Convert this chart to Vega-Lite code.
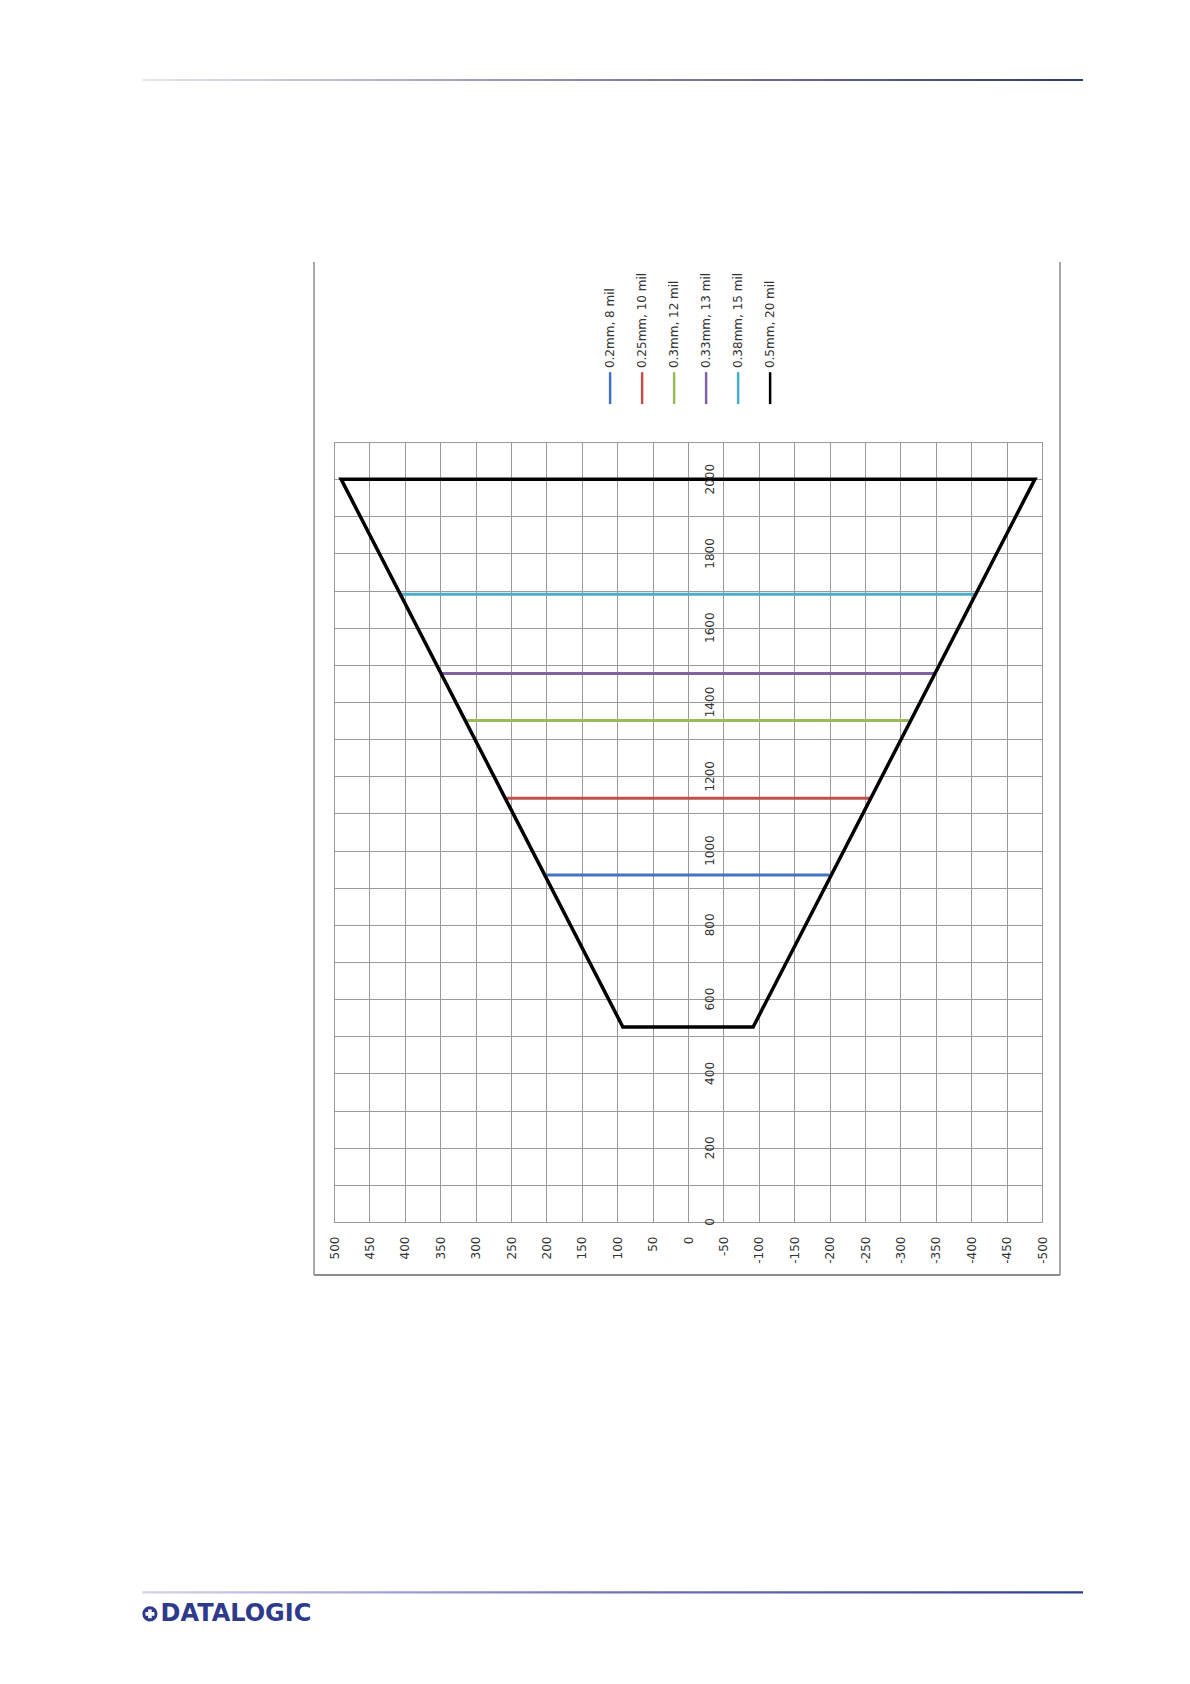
{
  "$schema": "https://vega.github.io/schema/vega-lite/v6.json",
  "width": 708,
  "height": 780,
  "autosize": {"type": "none"},
  "padding": {"left": 334, "top": 442, "right": 148, "bottom": 462},
  "background": "white",
  "config": {
    "view": {"stroke": "#8c8c8c", "strokeWidth": 1},
    "font": "DejaVu Sans"
  },
  "resolve": {"axis": {"x": "independent", "y": "independent"}},
  "datasets": {
    "lines": [
      {"series": "0.2mm, 8 mil", "lateral": 200, "distance": 934, "pt": 1},
      {"series": "0.2mm, 8 mil", "lateral": -200, "distance": 934, "pt": 2},
      {"series": "0.25mm, 10 mil", "lateral": 257, "distance": 1141, "pt": 1},
      {"series": "0.25mm, 10 mil", "lateral": -257, "distance": 1141, "pt": 2},
      {"series": "0.3mm, 12 mil", "lateral": 312, "distance": 1350, "pt": 1},
      {"series": "0.3mm, 12 mil", "lateral": -312, "distance": 1350, "pt": 2},
      {"series": "0.33mm, 13 mil", "lateral": 349, "distance": 1477, "pt": 1},
      {"series": "0.33mm, 13 mil", "lateral": -349, "distance": 1477, "pt": 2},
      {"series": "0.38mm, 15 mil", "lateral": 405, "distance": 1690, "pt": 1},
      {"series": "0.38mm, 15 mil", "lateral": -405, "distance": 1690, "pt": 2},
      {"series": "0.5mm, 20 mil", "lateral": 0, "distance": 2000, "pt": 1},
      {"series": "0.5mm, 20 mil", "lateral": 490, "distance": 2000, "pt": 2},
      {"series": "0.5mm, 20 mil", "lateral": 92, "distance": 525, "pt": 3},
      {"series": "0.5mm, 20 mil", "lateral": -92, "distance": 525, "pt": 4},
      {"series": "0.5mm, 20 mil", "lateral": -490, "distance": 2000, "pt": 5},
      {"series": "0.5mm, 20 mil", "lateral": 0, "distance": 2000, "pt": 6}
    ],
    "legend": [
      {"series": "0.2mm, 8 mil"},
      {"series": "0.25mm, 10 mil"},
      {"series": "0.3mm, 12 mil"},
      {"series": "0.33mm, 13 mil"},
      {"series": "0.38mm, 15 mil"},
      {"series": "0.5mm, 20 mil"}
    ],
    "dticks": [
      {"d": 0}, {"d": 200}, {"d": 400}, {"d": 600}, {"d": 800}, {"d": 1000},
      {"d": 1200}, {"d": 1400}, {"d": 1600}, {"d": 1800}, {"d": 2000}
    ]
  },
  "layer": [
    {
      "data": {"name": "lines"},
      "transform": [{"filter": "datum.series !== '0.5mm, 20 mil'"}],
      "mark": {"type": "line", "strokeWidth": 3, "strokeCap": "butt"},
      "encoding": {
        "x": {
          "field": "lateral", "type": "quantitative",
          "scale": {"domain": [500, -500], "nice": false, "zero": false},
          "axis": {
            "values": [500, 450, 400, 350, 300, 250, 200, 150, 100, 50, 0, -50, -100, -150, -200, -250, -300, -350, -400, -450, -500],
            "grid": true, "gridColor": "#9a9a9a", "gridWidth": 1,
            "labelAngle": 270, "labelPadding": 14, "labelFlush": false, "labelOverlap": false,
            "labelExpr": "'' + datum.value",
            "ticks": false, "domain": false, "title": null,
            "labelFont": "DejaVu Sans", "labelFontSize": 12, "labelColor": "#333333"
          }
        },
        "y": {
          "field": "distance", "type": "quantitative",
          "scale": {"domain": [0, 2100], "nice": false, "zero": false},
          "axis": {
            "values": [0, 100, 200, 300, 400, 500, 600, 700, 800, 900, 1000, 1100, 1200, 1300, 1400, 1500, 1600, 1700, 1800, 1900, 2000, 2100],
            "grid": true, "gridColor": "#9a9a9a", "gridWidth": 1,
            "labels": false, "ticks": false, "domain": false, "title": null
          }
        },
        "color": {
          "field": "series", "type": "nominal",
          "scale": {
            "domain": ["0.2mm, 8 mil", "0.25mm, 10 mil", "0.3mm, 12 mil", "0.33mm, 13 mil", "0.38mm, 15 mil", "0.5mm, 20 mil"],
            "range": ["#4472c4", "#c0504d", "#9bbb59", "#8064a2", "#4bacc6", "#000000"]
          },
          "legend": null
        },
        "order": {"field": "pt", "type": "quantitative"}
      }
    },
    {
      "data": {"name": "lines"},
      "transform": [{"filter": "datum.series === '0.5mm, 20 mil'"}],
      "mark": {"type": "line", "strokeWidth": 3.5, "strokeJoin": "miter", "strokeCap": "butt"},
      "encoding": {
        "x": {"field": "lateral", "type": "quantitative", "axis": null},
        "y": {"field": "distance", "type": "quantitative", "axis": null},
        "color": {"field": "series", "type": "nominal", "legend": null},
        "order": {"field": "pt", "type": "quantitative"}
      }
    },
    {
      "data": {"values": [{}]},
      "mark": {"type": "rect", "fill": {"gradient": "linear", "x1": 0, "y1": 0, "x2": 1, "y2": 0, "stops": [{"offset": 0, "color": "#e6e6ec"}, {"offset": 0.5, "color": "#8a7fa6"}, {"offset": 1, "color": "#2c3e73"}]}},
      "encoding": {
        "x": {"datum": 771, "type": "quantitative", "axis": null},
        "x2": {"datum": -558},
        "y": {"datum": 3077, "type": "quantitative", "axis": null},
        "y2": {"datum": 3072}
      }
    },
    {
      "data": {"values": [{}]},
      "mark": {"type": "rect", "fill": {"gradient": "linear", "x1": 0, "y1": 0, "x2": 1, "y2": 0, "stops": [{"offset": 0, "color": "#d4d4ec"}, {"offset": 0.5, "color": "#7474b4"}, {"offset": 1, "color": "#2a3e90"}]}},
      "encoding": {
        "x": {"datum": 771, "type": "quantitative", "axis": null},
        "x2": {"datum": -558},
        "y": {"datum": -994, "type": "quantitative", "axis": null},
        "y2": {"datum": -1000}
      }
    },
    {
      "data": {"values": [{}]},
      "mark": {"type": "point", "shape": "circle", "filled": true, "size": 230, "color": "#2e3a8c", "opacity": 1},
      "encoding": {
        "x": {"datum": 760, "type": "quantitative", "axis": null},
        "y": {"datum": -1055, "type": "quantitative", "axis": null}
      }
    },
    {
      "data": {"values": [{}]},
      "mark": {"type": "point", "shape": "cross", "filled": true, "size": 80, "color": "white", "opacity": 1},
      "encoding": {
        "x": {"datum": 760, "type": "quantitative", "axis": null},
        "y": {"datum": -1055, "type": "quantitative", "axis": null}
      }
    },
    {
      "data": {"values": [{"t": "DATALOGIC"}]},
      "mark": {"type": "text", "align": "left", "baseline": "middle", "fontSize": 24, "fontWeight": "bold", "font": "DejaVu Sans", "color": "#2e3a8c"},
      "encoding": {
        "x": {"datum": 745, "type": "quantitative", "axis": null},
        "y": {"datum": -1055, "type": "quantitative", "axis": null},
        "text": {"field": "t"}
      }
    },
    {
      "data": {"values": [{}]},
      "mark": {"type": "rule", "color": "#8c8c8c", "strokeWidth": 1.5},
      "encoding": {
        "x": {"datum": 528.2, "type": "quantitative", "axis": null},
        "y": {"datum": -142.7, "type": "quantitative", "axis": null},
        "y2": {"datum": 2584.6}
      }
    },
    {
      "data": {"values": [{}]},
      "mark": {"type": "rule", "color": "#8c8c8c", "strokeWidth": 1.5},
      "encoding": {
        "x": {"datum": -525.4, "type": "quantitative", "axis": null},
        "y": {"datum": -142.7, "type": "quantitative", "axis": null},
        "y2": {"datum": 2584.6}
      }
    },
    {
      "data": {"values": [{}]},
      "mark": {"type": "rule", "color": "#8c8c8c", "strokeWidth": 2},
      "encoding": {
        "x": {"datum": 528.2, "type": "quantitative", "axis": null},
        "x2": {"datum": -525.4},
        "y": {"datum": -142.7, "type": "quantitative", "axis": null}
      }
    },
    {
      "data": {"name": "dticks"},
      "mark": {"type": "text", "angle": 270, "align": "center", "baseline": "middle", "fontSize": 12, "font": "DejaVu Sans", "color": "#333333"},
      "encoding": {
        "x": {"datum": -31, "type": "quantitative", "axis": null},
        "y": {"field": "d", "type": "quantitative", "axis": null},
        "text": {"field": "d", "type": "quantitative"}
      }
    },
    {
      "data": {"name": "legend"},
      "mark": {"type": "rule", "strokeWidth": 2.5},
      "encoding": {
        "x": {"datum": 110, "type": "quantitative", "axis": null},
        "xOffset": {"field": "series", "type": "nominal", "scale": {"type": "point", "domain": ["0.2mm, 8 mil", "0.25mm, 10 mil", "0.3mm, 12 mil", "0.33mm, 13 mil", "0.38mm, 15 mil", "0.5mm, 20 mil"], "range": [0, 160], "padding": 0}},
        "y": {"datum": 2288, "type": "quantitative", "axis": null},
        "y2": {"datum": 2202},
        "color": {"field": "series", "type": "nominal", "legend": null}
      }
    },
    {
      "data": {"name": "legend"},
      "mark": {"type": "text", "angle": 270, "align": "left", "baseline": "middle", "fontSize": 12, "font": "DejaVu Sans", "color": "#333333"},
      "encoding": {
        "x": {"datum": 110, "type": "quantitative", "axis": null},
        "xOffset": {"field": "series", "type": "nominal", "scale": {"type": "point", "domain": ["0.2mm, 8 mil", "0.25mm, 10 mil", "0.3mm, 12 mil", "0.33mm, 13 mil", "0.38mm, 15 mil", "0.5mm, 20 mil"], "range": [0, 160], "padding": 0}},
        "y": {"datum": 2299, "type": "quantitative", "axis": null},
        "text": {"field": "series"}
      }
    }
  ]
}
